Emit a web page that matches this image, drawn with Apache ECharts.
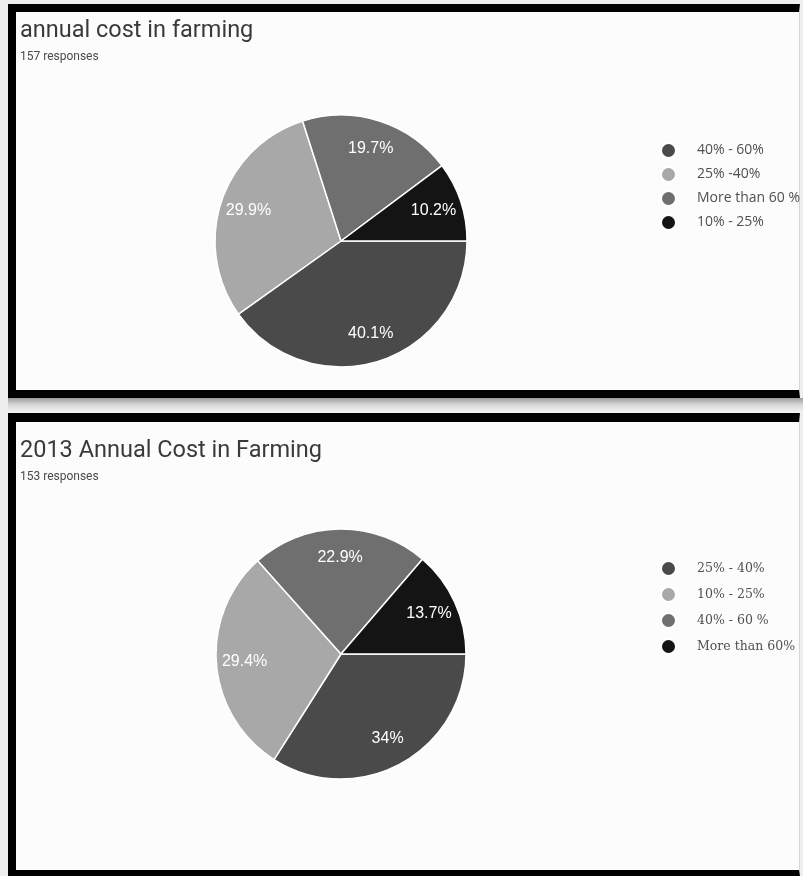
<!DOCTYPE html>
<html>
<head>
<meta charset="utf-8">
<script src="https://cdn.jsdelivr.net/npm/echarts@6/dist/echarts.min.js"></script>
<style>
  html, body { margin: 0; padding: 0; width: 803px; height: 876px; overflow: hidden; background: #eeeeee; }
  .panel { position: absolute; box-sizing: border-box; background: #fcfcfc; border: 0 solid #000; }
  #panelTop { left: 8px; top: 4px; width: 792px; height: 394px; border-width: 8px 1px 8px 8px; border-right-color: #d6d6d6; }
  #panelBottom { left: 8px; top: 413px; width: 792px; height: 463px; border-width: 9px 1px 6px 8px; border-right-color: #d6d6d6; }
  #shadow { position: absolute; left: 8px; top: 398px; width: 795px; height: 15px;
            background: linear-gradient(to bottom, #9a9a9a, #d8d8d8 45%, #f4f4f4); }
  #chartTop { position: absolute; left: 0; top: 0; width: 803px; height: 400px; }
  #chartBottom { position: absolute; left: 0; top: 400px; width: 803px; height: 476px; }
</style>
</head>
<body>
<div class="panel" id="panelTop"></div>
<div id="shadow"></div>
<div class="panel" id="panelBottom"></div>
<div id="chartTop"></div>
<div id="chartBottom"></div>
<script>
// Survey answers: share of annual cost in farming (percent of responses)
const topTitle = 'annual cost in farming';
const topResponses = '157 responses';
const topCategories = ['40% - 60%', '25% -40%', 'More than 60 %', '10% - 25%'];
const topShares = [40.1, 29.9, 19.7, 10.2];

const bottomTitle = '2013 Annual Cost in Farming';
const bottomResponses = '153 responses';
const bottomCategories = ['25% - 40%', '10% - 25%', '40% - 60 %', 'More than 60%'];
const bottomShares = [34, 29.4, 22.9, 13.7];

const sliceColors = ['#4a4a4a', '#a8a8a8', '#6f6f6f', '#141414'];

function buildOption(cfg) {
  const data = cfg.categories.map((name, i) => ({ name: name, value: cfg.shares[i] }));
  const radius = cfg.radius;
  return {
    animation: false,
    color: sliceColors,
    title: [
      { text: cfg.title, left: 20, top: cfg.titleTop, padding: 0,
        textStyle: { fontFamily: 'Roboto', fontSize: 23.5, fontWeight: 'normal', color: '#3a3a3a' } },
      { text: cfg.responses, left: 20, top: cfg.titleTop + 32, padding: 0,
        textStyle: { fontFamily: 'Roboto', fontSize: 12, fontWeight: 'normal', color: '#4a4a4a' } }
    ],
    legend: {
      orient: 'vertical',
      left: 660,
      top: cfg.legendTop,
      padding: 0,
      icon: 'circle',
      itemWidth: 15,
      itemHeight: 15,
      itemGap: cfg.legendGap,
      selectedMode: false,
      data: cfg.categories,
      textStyle: {
        fontFamily: cfg.legendFont, fontSize: cfg.legendFontSize, color: '#505050',
        lineHeight: 15, padding: [0, 0, 0, 16]
      }
    },
    series: [
      {
        type: 'pie',
        center: cfg.center,
        radius: [0, radius],
        startAngle: 0,
        clockwise: true,
        silent: true,
        data: data,
        itemStyle: { borderColor: '#ffffff', borderWidth: 1.5 },
        label: { show: false },
        labelLine: { show: false }
      },
      {
        // transparent ring that places the value labels at three quarters of the radius
        type: 'pie',
        center: cfg.center,
        radius: [radius * 0.5, radius],
        startAngle: 0,
        clockwise: true,
        silent: true,
        data: data,
        itemStyle: { color: 'rgba(0,0,0,0)', borderWidth: 0 },
        label: {
          show: true,
          position: 'inside',
          formatter: p => p.value + '%',
          color: '#ffffff',
          fontFamily: 'Liberation Sans',
          fontSize: 16
        },
        labelLine: { show: false }
      }
    ]
  };
}

const chartTop = echarts.init(document.getElementById('chartTop'), null, { renderer: 'canvas' });
chartTop.setOption(buildOption({
  title: topTitle, responses: topResponses, titleTop: 19,
  categories: topCategories, shares: topShares,
  center: [341, 241], radius: 126,
  legendTop: 142, legendGap: 7, legendFont: 'Open Sans', legendFontSize: 14
}));

const chartBottom = echarts.init(document.getElementById('chartBottom'), null, { renderer: 'canvas' });
chartBottom.setOption(buildOption({
  title: bottomTitle, responses: bottomResponses, titleTop: 39,
  categories: bottomCategories, shares: bottomShares,
  center: [341, 254], radius: 125,
  legendTop: 160, legendGap: 9, legendFont: 'DejaVu Serif', legendFontSize: 12.5
}));
</script>
</body>
</html>
